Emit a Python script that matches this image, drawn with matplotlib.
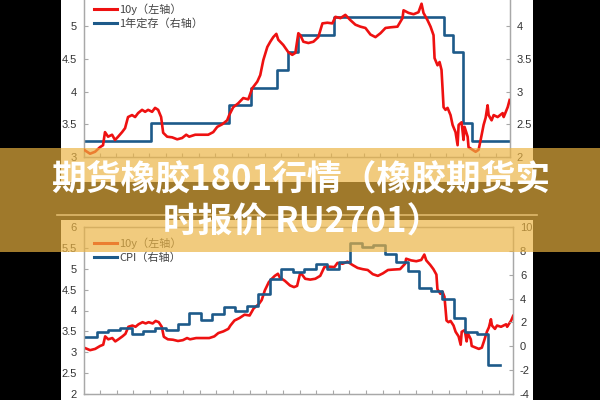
import matplotlib
matplotlib.use("Agg")
import matplotlib.pyplot as plt
import numpy as np
from matplotlib.lines import Line2D
from matplotlib.patches import Rectangle

W, H = 600, 400
CJK = ["Noto Sans CJK SC", "DejaVu Sans"]
RED = "#EE1111"
BLUE = "#1D5A8A"

# 10y yield (%), time = months from the left edge of the axis
yield_t = [0.00, 0.53, 0.97, 1.40, 1.67, 1.84, 2.11, 2.46, 2.72, 2.99, 3.34, 3.60, 3.86,
           4.21, 4.48, 4.74, 5.09, 5.36, 5.62, 5.97, 6.23, 6.50, 6.76, 6.94, 7.29, 7.73,
           8.17, 8.60, 8.96, 9.22, 9.75, 10.36, 10.89, 11.33, 11.68, 12.12, 12.55, 12.73,
           13.08, 13.52, 13.96, 14.40, 14.75, 15.19, 15.45, 15.72, 16.07, 16.33, 16.59,
           16.86, 17.03, 17.47, 17.91, 18.26, 18.53, 18.79, 18.96, 19.23, 19.67, 20.11,
           20.54, 20.90, 21.33, 21.77, 22.04, 22.48, 22.91, 23.35, 23.79, 24.23, 24.67,
           25.11, 25.55, 25.99, 26.43, 26.87, 27.48, 27.92, 28.01, 28.45, 28.89, 29.32,
           29.59, 29.76, 30.11, 30.38, 30.64, 30.73, 30.99, 31.17, 31.34, 31.43, 31.52,
           31.69, 31.87, 32.13, 32.31, 32.57, 32.75, 32.84, 33.10, 33.27, 33.36, 33.63,
           33.71, 34.06, 34.33, 34.59, 34.77, 35.03, 35.21, 35.38, 35.47, 35.73, 35.91,
           36.26, 36.70, 36.79, 37.14, 37.31]
yield_v = [3.11, 3.05, 3.08, 3.15, 3.18, 3.38, 3.31, 3.34, 3.26, 3.31, 3.38, 3.44, 3.61,
           3.64, 3.61, 3.67, 3.72, 3.69, 3.72, 3.69, 3.75, 3.72, 3.61, 3.37, 3.31, 3.30,
           3.27, 3.29, 3.34, 3.31, 3.34, 3.34, 3.34, 3.38, 3.46, 3.50, 3.56, 3.64,
           3.76, 3.82, 3.90, 3.88, 4.05, 4.15, 4.25, 4.48, 4.68, 4.76, 4.83,
           4.88, 4.79, 4.71, 4.60, 4.56, 4.59, 4.89, 4.86, 4.76, 4.74, 4.76,
           4.83, 5.04, 5.05, 5.04, 5.14, 5.12, 5.17, 5.09, 5.02, 4.99, 4.97,
           4.87, 4.83, 4.89, 4.97, 4.98, 4.99, 5.12, 5.24, 5.20, 5.18, 5.21,
           5.34, 5.20, 5.09, 4.99, 4.86, 4.51, 4.40, 4.45, 4.33, 4.05, 3.76,
           3.72, 3.75, 3.64, 3.49, 3.38, 3.18, 3.49, 3.53, 3.26, 3.46, 3.31,
           3.15, 3.11, 3.08, 3.11, 3.26, 3.49, 3.60, 3.79, 3.64, 3.56, 3.64,
           3.61, 3.67, 3.61, 3.76, 3.87]

# 1-year deposit rate (%), step starts
dep_t = [0, 5.86, 12.73, 14.66, 16.94, 17.91, 18.74, 21.92, 31.52, 32.31, 33.19, 33.98, 37.3]
dep_v = [2.25, 2.52, 2.79, 3.06, 3.33, 3.60, 3.87, 4.14, 3.87, 3.60, 2.52, 2.25, 2.25]

# CPI yoy (%), monthly steps
cpi_v = [0.8, 1.2, 1.4, 1.5, 1.0, 1.3, 1.5, 1.4, 1.9, 2.8, 2.2, 2.7, 3.3, 3.0, 3.4, 4.4,
         5.6, 6.5, 6.2, 6.5, 6.9, 6.5, 7.1, 8.7, 8.3, 8.5, 7.7, 7.1, 6.3, 4.9, 4.6, 4.0,
         2.4, 1.2, 1.0, -1.6]

top_left_ticks = [3, 3.5, 4, 4.5, 5]
top_right_ticks = [2, 2.5, 3, 3.5, 4]
bot_left_ticks = [2, 2.5, 3, 3.5, 4, 4.5, 5, 5.5, 6]
bot_right_ticks = [-4, -2, 0, 2, 4, 6, 8, 10]

top_labels = ["10y（左轴）", "1年定存（右轴）"]
bot_labels = ["10y（左轴）", "CPI（右轴）"]
title_lines = ["期货橡胶1801行情（橡胶期货实", "时报价 RU2701）"]

XMAX = 37.3


def px_box(x0, y0, x1, y1):
    # pixel box (top-left origin) -> figure fraction [l, b, w, h]
    return [x0 / W, 1 - y1 / H, (x1 - x0) / W, (y1 - y0) / H]


def style_axes(ax, ax2, yl, yr, lt, rt):
    ax.set_xlim(0, XMAX)
    ax.set_ylim(*yl)
    ax2.set_ylim(*yr)
    ax.set_yticks(lt)
    ax2.set_yticks(rt)
    ax.set_yticklabels(["%g" % v for v in lt])
    ax2.set_yticklabels(["%g" % v for v in rt])
    ax.set_xticks(np.arange(1.4, XMAX, 1.445))
    ax.set_xticklabels([])
    for a in (ax, ax2):
        for s in a.spines.values():
            s.set_color("#A8A8A8")
            s.set_linewidth(0.9)
        a.tick_params(direction="in", length=3, color="#A8A8A8", labelsize=8,
                      labelcolor="#333333", pad=5)
        a.patch.set_visible(False)
    for lab in ax.get_yticklabels() + ax2.get_yticklabels():
        lab.set_family(["Liberation Sans", "DejaVu Sans"])


fig = plt.figure(figsize=(6, 4), dpi=100, facecolor="black")

# white picture panels
fig.add_artist(Rectangle((61 / W, 1 - 182 / H), 472 / W, 182 / H,
                         transform=fig.transFigure, facecolor="white", edgecolor="none", zorder=-5))
fig.add_artist(Rectangle((61 / W, 0), 472 / W, 180 / H,
                         transform=fig.transFigure, facecolor="white", edgecolor="none", zorder=-5))
fig.add_artist(Line2D([57 / W, 537 / W], [1 - 215 / H] * 2, transform=fig.transFigure,
                      color="#C8C8C8", lw=1.2, zorder=-4))

# top chart: 10y vs 1-year deposit
ax = fig.add_axes(px_box(84, 157 - 2.5 * 65.5, 509.5, 157))
ax2 = ax.twinx()
ax.plot(yield_t, yield_v, color=RED, lw=1.9, zorder=3)
ax2.step(dep_t, dep_v, where="post", color=BLUE, lw=1.9)
ax.set_zorder(ax2.get_zorder() + 1)
style_axes(ax, ax2, (3, 5.5), (2, 4.5), top_left_ticks, top_right_ticks)
h = [Line2D([], [], color=RED, lw=2.2), Line2D([], [], color=BLUE, lw=2.2)]
ax.legend(h, top_labels, loc="upper left", bbox_to_anchor=(88 / W, 1 + 2 / H),
          bbox_transform=fig.transFigure, frameon=False, handlelength=2.1,
          handletextpad=0.2, labelspacing=0.3, borderpad=0,
          prop={"family": CJK, "size": 8}, labelcolor="#444444")

# bottom chart: 10y vs CPI
bx = fig.add_axes(px_box(84, 227, 513, 394))
bx2 = bx.twinx()
cpi_t = np.arange(len(cpi_v) + 1) + 0.13
cpi_t[0] = 0
bx.plot(yield_t, yield_v, color=RED, lw=1.9, zorder=3)
bx2.step(cpi_t, cpi_v + [cpi_v[-1]], where="post", color=BLUE, lw=1.9)
style_axes(bx, bx2, (2, 6), (-4, 10), bot_left_ticks, bot_right_ticks)
h = [Line2D([], [], color=RED, lw=2.2), Line2D([], [], color=BLUE, lw=2.2)]
bx2.legend(h, bot_labels, loc="upper left", bbox_to_anchor=(88 / W, 1 - 232 / H),
           bbox_transform=fig.transFigure, frameon=False, handlelength=2.1,
           handletextpad=0.2, labelspacing=0.3, borderpad=0,
           prop={"family": CJK, "size": 8}, labelcolor="#444444")

# golden banner on top of everything
fig.add_artist(Rectangle((0, 1 - 252 / H), 1, 104 / H, transform=fig.transFigure,
                         facecolor="#EBB341", alpha=0.68, edgecolor="none", zorder=10))
fig.text(301 / W, 1 - 179 / H, title_lines[0], ha="center", va="center", color="white",
         fontsize=25, fontweight="heavy", family=CJK, zorder=11)
fig.text(302 / W, 1 - 222 / H, title_lines[1], ha="center", va="center", color="white",
         fontsize=25, fontweight="heavy", family=CJK, zorder=11)

fig.savefig("out.png", dpi=100, facecolor="black")
